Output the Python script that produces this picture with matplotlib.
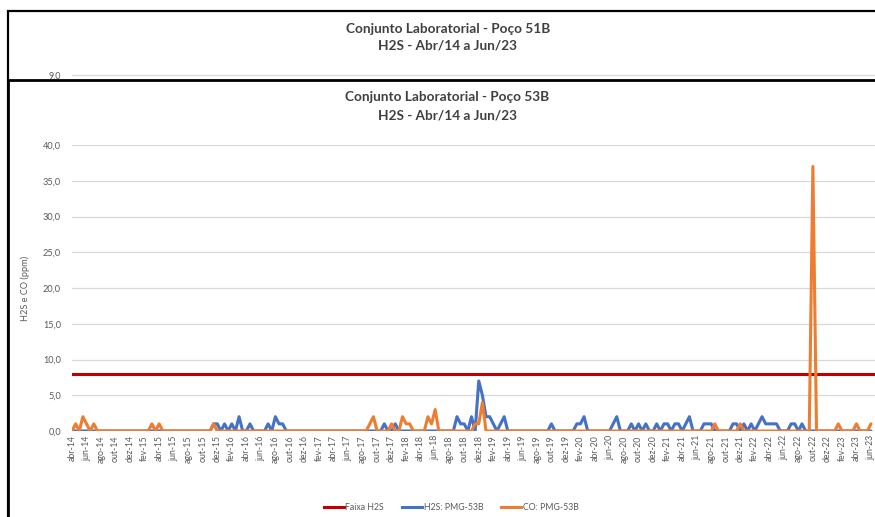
import matplotlib
matplotlib.use("Agg")
import matplotlib.pyplot as plt
from matplotlib.patches import Rectangle
from matplotlib.lines import Line2D
import numpy as np

# two samples per month, abr-14 (index 0) .. jun-23 (index 220)
h2s = [
    0, 0, 0, 0, 0, 0, 0, 0, 0, 0, 0, 0, 0, 0, 0, 0, 0, 0, 0, 0,
    0, 0, 0, 0, 0, 0, 0, 0, 0, 0, 0, 0, 0, 0, 0, 0, 0, 0, 0, 1,
    1, 0, 1, 0, 1, 0, 2, 0, 0, 1, 0, 0, 0, 0, 1, 0, 2, 1, 1, 0,
    0, 0, 0, 0, 0, 0, 0, 0, 0, 0, 0, 0, 0, 0, 0, 0, 0, 0, 0, 0,
    0, 0, 0, 0, 0, 0, 1, 0, 0, 1, 0, 0, 0, 0, 0, 0, 0, 0, 0, 0,
    0, 0, 0, 0, 0, 0, 2, 1, 1, 0, 2, 0, 7, 5, 2, 2, 1, 0, 1, 2,
    0, 0, 0, 0, 0, 0, 0, 0, 0, 0, 0, 0, 1, 0, 0, 0, 0, 0, 0, 1,
    1, 2, 0, 0, 0, 0, 0, 0, 0, 1, 2, 0, 0, 0, 1, 0, 1, 0, 1, 0,
    0, 1, 0, 1, 1, 0, 1, 1, 0, 1, 2, 0, 0, 0, 1, 1, 1, 0, 0, 0,
    0, 0, 1, 1, 0, 1, 0, 1, 0, 1, 2, 1, 1, 1, 1, 0, 0, 0, 1, 1,
    0, 1, 0, 0, 0, 0, 0, 0, 0, 0, 0, 0, 0, 0, 0, 0, 0, 0, 0, 0,
    0,
]
co = [
    0, 1, 0, 2, 1, 0, 1, 0, 0, 0, 0, 0, 0, 0, 0, 0, 0, 0, 0, 0,
    0, 0, 1, 0, 1, 0, 0, 0, 0, 0, 0, 0, 0, 0, 0, 0, 0, 0, 0, 1,
    0, 0, 0, 0, 0, 0, 0, 0, 0, 0, 0, 0, 0, 0, 0, 0, 0, 0, 0, 0,
    0, 0, 0, 0, 0, 0, 0, 0, 0, 0, 0, 0, 0, 0, 0, 0, 0, 0, 0, 0,
    0, 0, 1, 2, 0, 0, 0, 0, 1, 0, 0, 2, 1, 1, 0, 0, 0, 0, 2, 1,
    3, 0, 0, 0, 0, 0, 0, 0, 0, 0, 0, 1, 1, 4, 0, 0, 0, 0, 0, 0,
    0, 0, 0, 0, 0, 0, 0, 0, 0, 0, 0, 0, 0, 0, 0, 0, 0, 0, 0, 0,
    0, 0, 0, 0, 0, 0, 0, 0, 0, 0, 0, 0, 0, 0, 0, 0, 0, 0, 0, 0,
    0, 0, 0, 0, 0, 0, 0, 0, 0, 0, 0, 0, 0, 0, 0, 0, 0, 1, 0, 0,
    0, 0, 0, 0, 1, 0, 0, 0, 0, 0, 0, 0, 0, 0, 0, 0, 0, 0, 0, 0,
    0, 0, 0, 0, 37, 0, 0, 0, 0, 0, 0, 1, 0, 0, 0, 0, 1, 0, 0, 0,
    1,
]
faixa_h2s = 8.0

meses = ['abr', 'jun', 'ago', 'out', 'dez', 'fev']
rotulos = [meses[i % 6] + '-' + str(14 + (i + 1) // 6) for i in range(56)]

cinza = '#595959'
plt.rcParams['font.family'] = ['Lato', 'DejaVu Sans']

W, H = 875, 517
fig = plt.figure(figsize=(W / 100, H / 100), dpi=100)


def fx(px):
    return px / W


def fy(py):
    return 1 - py / H


# chart behind (Poço 51B), only its top part shows
fig.patches.append(Rectangle((fx(8), fy(600)), fx(900), fy(11) - fy(600),
                             transform=fig.transFigure, facecolor='white',
                             edgecolor='black', lw=1.6, zorder=0))
fig.text(fx(448), fy(29), 'Conjunto Laboratorial - Poço 51B', ha='center', va='center',
         fontsize=9.8, fontweight='bold', color='#404040', zorder=1)
fig.text(fx(448), fy(46), 'H2S - Abr/14 a Jun/23', ha='center', va='center',
         fontsize=9.8, fontweight='bold', color='#404040', zorder=1)
ax_b = fig.add_axes([fx(72), fy(80), fx(803), fy(70) - fy(80)], zorder=1)
ax_b.set_ylim(8, 10)
ax_b.set_yticks([9.0])
ax_b.set_yticklabels(['9,0'], fontsize=6.5, color=cinza)
ax_b.set_xticks([])
ax_b.grid(axis='y', color='#d9d9d9', lw=0.9)
ax_b.tick_params(length=0, pad=8)
for s in ax_b.spines.values():
    s.set_visible(False)
ax_b.patch.set_alpha(0)

# front chart (Poço 53B)
fig.patches.append(Rectangle((fx(8), fy(600)), fx(900), fy(80) - fy(600),
                             transform=fig.transFigure, facecolor='white',
                             edgecolor='black', lw=2.0, zorder=2))
fig.text(fx(447), fy(97), 'Conjunto Laboratorial - Poço 53B', ha='center', va='center',
         fontsize=9.8, fontweight='bold', color='#404040', zorder=3)
fig.text(fx(447), fy(115), 'H2S - Abr/14 a Jun/23', ha='center', va='center',
         fontsize=9.8, fontweight='bold', color='#404040', zorder=3)

ax = fig.add_axes([fx(72), fy(431), fx(803), fy(145) - fy(431)], zorder=3)
ax.patch.set_alpha(0)
x = np.arange(len(h2s))
ax.axhline(faixa_h2s, color='#C00000', lw=2.2, label='Faixa H2S', zorder=3)
ax.plot(x, h2s, color='#4472C4', lw=2.2, label='H2S: PMG-53B', zorder=4,
        solid_joinstyle='round', solid_capstyle='round')
ax.plot(x, co, color='#ED7D31', lw=2.2, label='CO: PMG-53B', zorder=5,
        solid_joinstyle='round', solid_capstyle='round')

ax.set_xlim(0, 803 * 220 / 799)
ax.set_ylim(0, 40)
ax.set_yticks(np.arange(0, 41, 5))
ax.set_yticklabels([f'{v:.1f}'.replace('.', ',') for v in np.arange(0, 41, 5)],
                   fontsize=6.6, color=cinza)
ax.set_xticks(np.arange(0, 221, 4))
ax.set_xticklabels(rotulos, rotation=90, fontsize=6.3, color=cinza)
ax.tick_params(length=0)
ax.tick_params(axis='y', pad=8)
ax.tick_params(axis='x', pad=3)
ax.grid(axis='y', color='#d9d9d9', lw=0.9)
ax.set_axisbelow(True)
for s in ax.spines.values():
    s.set_visible(False)

fig.text(fx(25), fy(288), 'H2S e CO (ppm)', rotation=90, ha='center', va='center',
         fontsize=6.6, color=cinza, zorder=3)

handles = [
    Line2D([], [], color='#C00000', lw=2.2),
    Line2D([], [], color='#4472C4', lw=2.2),
    Line2D([], [], color='#ED7D31', lw=2.2),
]
leg = fig.legend(handles, ['Faixa H2S', 'H2S: PMG-53B', 'CO: PMG-53B'], loc='center',
                 bbox_to_anchor=(fx(451), fy(508)), ncol=3, frameon=False,
                 fontsize=6.3, handlelength=2.3, handletextpad=0.2, columnspacing=2.0,
                 labelcolor=cinza)
leg.set_zorder(4)

fig.savefig('out.png', dpi=100)
